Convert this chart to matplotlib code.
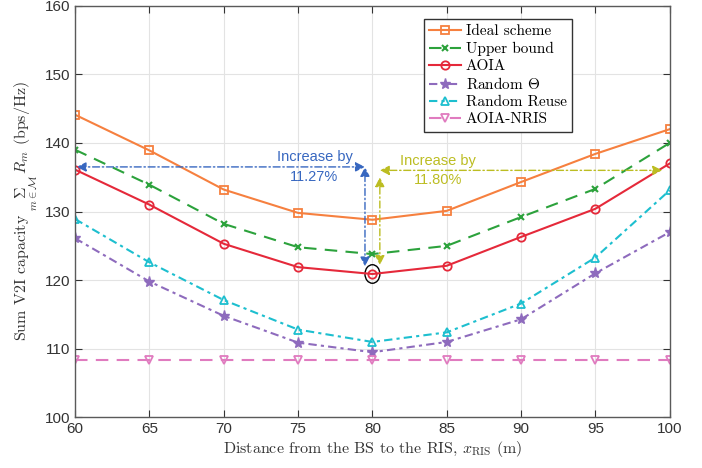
import matplotlib
matplotlib.use("Agg")
import matplotlib.pyplot as plt
from matplotlib.patches import Ellipse

plt.rcParams["font.family"] = "Liberation Sans"
plt.rcParams["mathtext.fontset"] = "cm"
plt.rcParams["axes.unicode_minus"] = False

# distance from BS to RIS (m)
x_ris = [60, 65, 70, 75, 80, 85, 90, 95, 100]

# sum V2I capacity (bps/Hz) for each scheme
ideal = [144.1, 138.9, 133.2, 129.8, 128.8, 130.1, 134.3, 138.4, 142.0]
upper_bound = [139.0, 133.9, 128.2, 124.8, 123.8, 125.0, 129.2, 133.3, 140.0]
aoia = [136.1, 131.0, 125.3, 121.9, 120.9, 122.1, 126.3, 130.4, 137.0]
random_theta = [126.1, 119.8, 114.8, 110.9, 109.5, 111.0, 114.3, 121.0, 127.0]
random_reuse = [128.9, 122.6, 117.1, 112.8, 111.0, 112.4, 116.6, 123.3, 133.1]
aoia_nris = [108.4, 108.4, 108.4, 108.4, 108.4, 108.4, 108.4, 108.4, 108.4]

x_ticks = [60, 65, 70, 75, 80, 85, 90, 95, 100]
y_ticks = [100, 110, 120, 130, 140, 150, 160]

c_ideal = "#f6803f"
c_ub = "#2ca23c"
c_aoia = "#e5293a"
c_theta = "#8e6bbd"
c_reuse = "#1dbfcf"
c_nris = "#e07bbf"
c_blue = "#3767c0"
c_olive = "#bcbd22"
axis_gray = "#333333"

fig = plt.figure(figsize=(7.02, 4.68), dpi=100)
ax = fig.add_axes([0.107, 0.108, 0.847, 0.880])

ms = 6
ax.plot(x_ris, ideal, "-", color=c_ideal, lw=1.5, marker="s", ms=ms,
        mfc="none", mew=1.3, label="Ideal scheme")
ax.plot(x_ris, upper_bound, "--", color=c_ub, lw=1.5, marker="x", ms=5,
        mew=1.5, label="Upper bound", dashes=(6, 4))
ax.plot(x_ris, aoia, "-", color=c_aoia, lw=1.5, marker="o", ms=ms,
        mfc="none", mew=1.3, label="AOIA")
ax.plot(x_ris, random_theta, "-.", color=c_theta, lw=1.5, marker="*", ms=8,
        label=r"Random $\mathbf{\Theta}$", dashes=(4, 2, 1.5, 2))
ax.plot(x_ris, random_reuse, "-.", color=c_reuse, lw=1.5, marker="^", ms=ms,
        mfc="none", mew=1.3, label="Random Reuse", dashes=(4, 2, 1.5, 2))
ax.plot(x_ris, aoia_nris, "--", color=c_nris, lw=1.5, marker="v", ms=ms,
        mfc="none", mew=1.3, label="AOIA-NRIS", dashes=(6, 4))

# gain annotations around x = 80
arr_blue = dict(arrowstyle="<|-|>", color=c_blue, lw=1.0, ls=(0, (5, 2, 1, 2)),
                mutation_scale=14, shrinkA=0, shrinkB=0)
arr_olive = dict(arrowstyle="<|-|>", color=c_olive, lw=1.0, ls=(0, (5, 2, 1, 2)),
                 mutation_scale=14, shrinkA=0, shrinkB=0)
ax.annotate("", xy=(60.1, 136.5), xytext=(79.5, 136.5), arrowprops=arr_blue)
ax.annotate("", xy=(79.5, 136.5), xytext=(79.5, 122.0), arrowprops=arr_blue)
ax.annotate("", xy=(80.5, 136.0), xytext=(99.5, 136.0), arrowprops=arr_olive)
ax.annotate("", xy=(80.5, 135.0), xytext=(80.5, 122.2), arrowprops=arr_olive)

ax.text(76.1, 138.0, "Increase by", color=c_blue, fontsize=10.5,
        ha="center", va="center")
ax.text(76.1, 135.1, "11.27%", color=c_blue, fontsize=10.5,
        ha="center", va="center")
ax.text(84.4, 137.4, "Increase by", color=c_olive, fontsize=10.5,
        ha="center", va="center")
ax.text(84.4, 134.6, "11.80%", color=c_olive, fontsize=10.5,
        ha="center", va="center")

ax.add_patch(Ellipse((80, 120.9), 1.0, 2.7, fill=False, ec="black", lw=1.0))

ax.set_xlim(60, 100)
ax.set_ylim(100, 160)
ax.set_xticks(x_ticks)
ax.set_yticks(y_ticks)
ax.grid(True, color="#e3e3e3", lw=0.8)
ax.set_axisbelow(True)
ax.tick_params(direction="in", top=True, right=True, length=5,
               colors=axis_gray, labelsize=11)
for sp in ax.spines.values():
    sp.set_color("#5a5a5a")
    sp.set_linewidth(1.0)

ax.set_xlabel(r"Distance from the BS to the RIS, $x_{\rm RIS}$ (m)",
              family="cmr10", fontsize=11.5, color=axis_gray, labelpad=2)
ax.set_ylabel(r"Sum V2I capacity $\underset{m\in\mathcal{M}}{\Sigma}\, R_m$ (bps/Hz)",
              family="cmr10", fontsize=11.5, color=axis_gray, labelpad=4)

leg = ax.legend(loc="upper right", bbox_to_anchor=(0.836, 0.967),
                borderaxespad=0, fancybox=False, framealpha=1,
                edgecolor="#333333", prop={"family": "cmr10", "size": 11},
                handlelength=2.1, handletextpad=0.3, labelspacing=0.22,
                borderpad=0.35)
leg.get_frame().set_linewidth(1.0)

fig.savefig("out.png", dpi=100)
